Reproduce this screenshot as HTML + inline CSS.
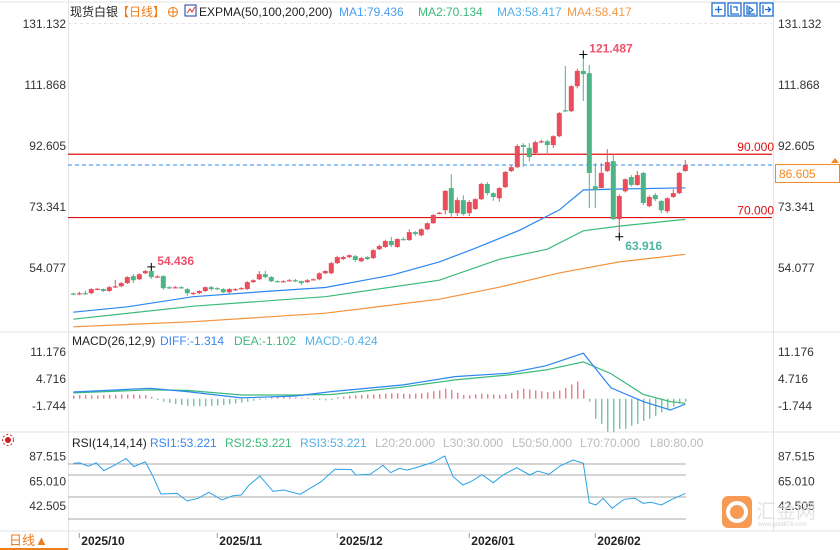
<!DOCTYPE html>
<html><head><meta charset="utf-8"><style>
html,body{margin:0;padding:0;background:#fff;}
svg{display:block;font-family:"Liberation Sans","Noto Sans CJK SC",sans-serif;}
</style></head><body>
<svg id="chart" width="840" height="550" viewBox="0 0 840 550" xmlns="http://www.w3.org/2000/svg">
<rect x="0" y="0" width="840" height="550" fill="#fff"/>
<g stroke="#e3e3e3" fill="none">
<line x1="0" y1="2" x2="840" y2="2"/>
<line x1="0" y1="332" x2="840" y2="332"/>
<line x1="0" y1="432" x2="840" y2="432"/>
<line x1="0" y1="531" x2="840" y2="531"/>
<line x1="68.5" y1="0" x2="68.5" y2="550"/>
<line x1="773.5" y1="0" x2="773.5" y2="531"/>
<line x1="68" y1="23.5" x2="772" y2="23.5" stroke-dasharray="3,3"/>
</g>
<g font-size="12">
<text x="70" y="16" fill="#222">现货白银</text>
<text x="117" y="16" fill="#f07c1a">【日线】</text>
<g><circle cx="173" cy="12" r="4.5" fill="none" stroke="#f07c1a"/><line x1="168" y1="12" x2="178" y2="12" stroke="#f07c1a"/><line x1="173" y1="7" x2="173" y2="17" stroke="#f07c1a"/></g>
<g><rect x="185" y="5" width="11" height="11" fill="#fff" stroke="#1a3f9a"/><polyline points="187,13 190,9 192,12 195,7" fill="none" stroke="#e03030"/></g>
<text x="199" y="16" fill="#222">EXPMA(50,100,200,200)</text>
<text x="339" y="16" fill="#4a9ef0">MA1:79.436</text>
<text x="418" y="16" fill="#3cba7a">MA2:70.134</text>
<text x="497" y="16" fill="#55b0e8">MA3:58.417</text>
<text x="567" y="16" fill="#f59a4a">MA4:58.417</text>
</g>
<g stroke="#1f6fd0" fill="none" stroke-width="1.3">
<g><rect x="712" y="3" width="13" height="13"/><path d="M718.5 6v7M715 9.5h7"/></g>
<g><rect x="728" y="3" width="13" height="13"/><path d="M731 5v9h8M733 7h4v4"/></g>
<g><rect x="744" y="3" width="13" height="13"/><path d="M747 5v9h8M749 7l4 3-4 3z"/></g>
<g><rect x="760" y="3" width="13" height="13"/><path d="M763 5v9M765 9.5h5M768 7l2.5 2.5-2.5 2.5"/></g>
</g>
<g id="axes" font-size="12" fill="#333"></g>
<g id="main"></g>
<g id="macd"></g>
<g id="rsi"></g>
<g font-size="12">
<text x="72" y="345" fill="#222">MACD(26,12,9)</text>
<text x="160" y="345" fill="#3a86f0">DIFF:-1.314</text>
<text x="234" y="345" fill="#3cba7a">DEA:-1.102</text>
<text x="305" y="345" fill="#55b0e8">MACD:-0.424</text>
</g>
<g font-size="12">
<text x="72" y="447" fill="#222">RSI(14,14,14)</text>
<text x="150" y="447" fill="#3a86f0">RSI1:53.221</text>
<text x="225" y="447" fill="#3cba7a">RSI2:53.221</text>
<text x="300" y="447" fill="#55b0e8">RSI3:53.221</text>
<text x="375" y="447" fill="#bbb">L20:20.000</text>
<text x="443" y="447" fill="#bbb">L30:30.000</text>
<text x="512" y="447" fill="#bbb">L50:50.000</text>
<text x="580" y="447" fill="#bbb">L70:70.000</text>
<text x="650" y="447" fill="#bbb">L80:80.00</text>
</g>
<g><circle cx="8" cy="440" r="3" fill="#d02020"/><circle cx="8" cy="440" r="5.5" fill="none" stroke="#d02020" stroke-dasharray="2,2"/></g>
<g>
<text x="9" y="545" font-size="13" fill="#f07c1a">日线▲</text>
<line x1="0" y1="549" x2="68" y2="549" stroke="#f07c1a" stroke-width="2"/>
</g>
<g opacity="0.8">
<rect x="722" y="496" width="30" height="32" rx="6" fill="#f5822a"/>
<circle cx="737" cy="512" r="9" fill="none" stroke="#fff" stroke-width="4"/>
<text x="756" y="518" font-size="20" fill="#ddd">汇金网</text>
<text x="758" y="526" font-size="6" fill="#ccc">www.gold678.com</text>
</g>
</svg>
<script>
// ---- data ----
const opens=[46.0,45.8,46.1,46.1,47.3,47.4,46.8,48.0,48.3,49.3,51.5,50.5,52.4,53.1,51.2,51.5,48.0,47.9,48.0,47.4,46.0,46.1,46.8,48.0,47.7,47.4,46.4,47.1,47.4,47.4,49.6,50.5,52.1,51.2,49.9,49.8,50.1,50.2,49.9,49.6,50.4,50.5,52.4,52.4,55.6,56.9,57.5,57.8,56.2,57.5,57.2,60.0,60.7,62.6,60.7,63.2,62.9,65.4,64.4,66.3,68.2,71.3,72.3,79.3,71.4,75.5,71.4,72.7,75.8,80.6,77.7,76.1,79.6,84.7,85.9,92.9,92.0,90.4,93.8,94.1,92.9,95.7,103.9,103.6,111.5,116.3,115.6,79.9,79.3,84.7,87.8,69.5,78.3,82.8,80.3,84.1,73.6,77.1,75.2,72.0,76.5,77.7,84.7];
const closes=[45.8,46.1,46.0,47.4,47.5,46.8,48.0,48.3,49.3,51.2,50.2,52.1,53.1,51.2,51.4,47.7,47.8,48.0,47.9,46.1,46.2,46.8,48.0,47.4,47.4,46.4,47.4,47.4,47.7,49.6,50.2,52.1,51.2,49.9,49.8,49.9,50.2,49.9,49.3,50.2,50.5,52.4,53.1,55.6,57.5,57.5,58.1,56.6,57.2,56.9,59.7,61.0,62.6,61.3,63.2,63.1,65.4,64.8,66.3,68.2,70.8,71.5,78.4,71.4,75.5,71.1,74.9,75.8,80.6,77.7,76.5,79.3,84.4,85.9,92.6,92.3,89.1,93.8,94.1,92.9,95.7,103.0,103.6,111.5,116.3,115.3,84.1,78.7,84.1,87.5,69.5,76.8,82.1,80.3,83.4,74.6,76.5,75.8,72.3,76.1,77.7,84.1,86.6];
const highs=[46.3,46.6,46.9,47.7,47.8,47.6,48.4,50.3,49.6,51.5,52.2,52.4,53.5,54.436,51.8,51.8,48.3,48.4,48.4,47.8,46.4,47.1,48.2,48.4,48.0,47.7,47.7,47.7,48.0,49.9,50.5,53.1,53.2,51.5,50.2,50.2,50.6,50.6,50.1,50.6,50.8,52.7,53.4,56.0,57.9,57.9,58.4,58.2,57.6,57.8,60.0,61.4,63.0,63.9,63.5,63.8,66.3,65.7,66.6,68.5,71.1,71.8,78.7,83.7,76.3,77.0,75.5,76.1,81.0,81.2,78.0,79.6,84.7,86.5,93.1,93.5,93.5,94.3,94.6,94.6,96.0,103.3,117.9,111.8,117.0,121.487,118.2,87.2,87.2,91.6,90.0,77.3,82.4,83.4,84.7,84.4,77.0,77.7,75.6,76.4,79.0,84.4,88.2];
const lows=[45.5,45.5,45.6,45.8,47.0,46.5,46.5,47.7,48.0,49.0,49.3,50.2,52.1,50.6,50.9,47.2,47.4,47.6,47.5,45.3,45.5,45.8,46.5,47.0,47.1,46.1,46.1,46.8,47.2,47.1,49.3,50.2,50.8,49.6,49.5,49.5,49.8,49.6,48.6,49.3,50.1,50.2,52.1,52.1,55.3,56.6,57.2,56.0,55.9,56.6,56.9,59.7,60.4,60.7,60.4,62.8,62.6,64.2,64.1,66.0,68.0,71.0,71.0,69.8,70.5,70.6,70.5,72.4,75.5,77.0,75.3,75.0,79.3,84.4,85.6,86.0,87.7,90.1,93.5,89.9,92.0,95.4,103.3,103.3,110.8,106.8,73.0,73.0,83.6,84.4,69.2,63.916,77.9,79.8,80.0,74.0,73.3,75.2,71.4,71.4,76.2,77.4,84.4];
const ma1Idx=[0,9,20,31,42,53,61,66.6,74.4,81,85,91,102];
const ma1Val=[40.1,41.8,45.0,46.5,47.9,51.8,56.0,60.0,66.0,72.4,78.7,79.0,79.4];
const ma2Idx=[0,20,42,61,71,79,85,91,102];
const ma2Val=[37.9,42.0,45.0,50.2,56.8,60.0,65.8,67.3,69.4];
const ma4Idx=[0,20,42,61,71,81,91,102];
const ma4Val=[35.5,37.1,39.8,44.2,48.0,52.5,56.0,58.4];
const hLevels=[90,70];
const lastPrice=86.605;
const priceTicks=[131.132,111.868,92.605,73.341,54.077];
const macdHist=[0.8,0.9,0.9,0.8,0.8,0.9,0.9,0.9,1.0,1.0,1.0,0.9,0.9,0.4,-0.3,-0.7,-1.0,-1.3,-1.5,-1.7,-1.8,-1.8,-1.8,-1.7,-1.6,-1.5,-1.3,-1.1,-0.9,-0.7,-0.5,-0.3,-0.2,0.3,0.4,0.5,0.4,0.3,0.2,0.2,-0.2,-0.3,-0.4,-0.3,0.3,0.5,0.7,0.8,0.9,1.0,1.0,1.1,1.2,1.3,1.3,1.2,1.1,1.2,1.3,1.5,1.8,2.0,2.4,2.1,1.4,0.9,0.8,1.0,1.2,1.1,1.0,0.9,1.0,1.4,2.0,2.4,2.2,2.0,1.8,1.6,1.7,2.0,2.6,3.4,4.1,2.2,-0.7,-4.8,-6.0,-7.9,-7.9,-7.2,-7.2,-6.5,-6.0,-5.3,-4.8,-4.1,-3.3,-2.4,-1.9,-1.2,-0.7];
const macdIdx=[0,12.8,19,28,37,43,55,63.6,72.6,78.8,85,89.6,95,99.5,102];
const diffVal=[1.6,2.5,1.7,0.2,0.65,1.7,3.3,5.3,6.1,7.9,10.9,2.6,-0.7,-2.7,-1.3];
const deaVal=[1.4,2.1,2.0,0.9,0.9,1.0,2.8,4.5,5.7,6.9,8.8,6.0,1.0,-0.7,-1.1];
const macdTicks=[11.176,4.716,-1.744];
const rsiIdx=[0,1.1,2.5,3.8,5.1,6.9,8.8,10.1,12,13.3,14.6,17.3,19,20.8,22.6,24.8,26.6,28,29.3,31.1,33.3,35.1,37.8,41.3,43.6,46.3,47.1,49.5,51.6,52.9,54.3,55.6,57.5,60.1,61.9,63.3,64.9,66.3,68.1,70,71.6,73.9,76.1,77.4,79.3,81.1,83.3,85,86,87.1,88.3,89.8,91.8,93.6,95,96.3,98,99.8,102];
const rsiVal=[80.6,81,78,81,74,79,85,77.6,82,68.5,52.7,53.3,46.4,48.8,54.3,47.3,51.2,51.8,60.9,69,55.1,56.4,52.5,63.9,75.2,75,70,70.6,78.8,72.1,76,74.5,77.3,81.8,87.3,68.5,61,64,70.3,63,70,76.6,70,73.6,70.6,78.2,83.6,80.6,44.8,42.7,48.8,39.7,47.9,48.8,44.3,45.2,42.7,47.9,53.3];
const rsiLevels=[80,70,50,30];
const rsiTicks=[87.515,65.010,42.505];
const dateLabels=["2025/10","2025/11","2025/12","2026/01","2026/02"];
const dateIdx=[1,24,44,66,87];

// ---- scales ----
const NS="http://www.w3.org/2000/svg";
const xS=i=>73.3+i*6;
const yP=v=>24+(131.132-v)*3.166;
const yM=v=>352+(11.176-v)*4.18;
const yR=v=>464+(80-v)*1.1;
function mk(tag,attrs,parent){const e=document.createElementNS(NS,tag);for(const k in attrs)e.setAttribute(k,attrs[k]);parent.appendChild(e);return e;}
const RED="#eb4d5c",GRN="#4db585";
const axes=document.getElementById('axes');
const main=document.getElementById('main');
const macd=document.getElementById('macd');
const rsi=document.getElementById('rsi');

priceTicks.forEach(v=>{
  const t=mk('text',{x:66,y:yP(v)+4,'text-anchor':'end'},axes);t.textContent=v.toFixed(3);
  
  
  const t2=mk('text',{x:778,y:yP(v)+4},axes);t2.textContent=v.toFixed(3);
  
  
});
macdTicks.forEach(v=>{
  const t=mk('text',{x:66,y:yM(v)+4,'text-anchor':'end'},axes);t.textContent=v.toFixed(3);
  
  
  const t2=mk('text',{x:778,y:yM(v)+4},axes);t2.textContent=v.toFixed(3);
  
  
});
rsiTicks.forEach(v=>{
  const t=mk('text',{x:66,y:yR(v)+5,'text-anchor':'end'},axes);t.textContent=v.toFixed(3);
  
  
  const t2=mk('text',{x:778,y:yR(v)+5},axes);t2.textContent=v.toFixed(3);
  
  
});
dateLabels.forEach((d,k)=>{
  const x=xS(dateIdx[k]);
  const l=mk('line',{x1:x,y1:533,x2:x,y2:538,stroke:'#999'},axes);
  
  
  const t=mk('text',{x:x+2,y:545,'font-weight':'bold','font-size':12,fill:'#222'},axes);t.textContent=d;
  
  
});

hLevels.forEach(v=>{
  const l=mk('line',{x1:68,y1:yP(v),x2:772,y2:yP(v),stroke:'#e01010','stroke-width':1.2},main);
  
  
  const t=mk('text',{x:774,y:yP(v)-3,'text-anchor':'end','font-size':12,fill:'#e01010'},main);t.textContent=v.toFixed(3);
  
  
});
const lp=mk('line',{x1:68,y1:yP(lastPrice),x2:830,y2:yP(lastPrice),stroke:'#2a8cf0','stroke-dasharray':'4,3'},main);


const lb=mk('rect',{x:775.5,y:yP(lastPrice)-0.5,width:64,height:18,fill:'#fff',stroke:'#f08a24'},main);


const lt=mk('text',{x:779,y:yP(lastPrice)+13,'font-size':12,fill:'#f08a24'},main);lt.textContent=lastPrice.toFixed(3);


const la=mk('path',{d:`M831 ${yP(lastPrice)-2} l4 -5 l4 5 z`,fill:'#f08a24'},main);



function line(idx,val,ys,color,parent,name,w){
  const pts=idx.map((i,k)=>xS(i).toFixed(1)+','+ys(val[k]).toFixed(1)).join(' ');
  const p=mk('polyline',{points:pts,fill:'none',stroke:color,'stroke-width':w||1.2},parent);
  
  
}
line(ma4Idx,ma4Val,yP,'#f5923a',main,'ma4-line');
line(ma2Idx,ma2Val,yP,'#3cba7a',main,'ma2-line');
line(ma1Idx,ma1Val,yP,'#2a86f0',main,'ma1-line');

opens.forEach((o,i)=>{
  const c=closes[i],x=xS(i),col=c>=o?RED:GRN;
  const g=mk('g',{},main);
  
  
  mk('line',{x1:x,y1:yP(highs[i]),x2:x,y2:yP(lows[i]),stroke:col,'stroke-width':1},g);
  const top=yP(Math.max(o,c)),bot=yP(Math.min(o,c));
  mk('rect',{x:x-2.5,y:top,width:5,height:Math.max(bot-top,1.2),fill:col},g);
});

function extreme(i,v,label,color,dy){
  const x=xS(i),y=yP(v);
  const g=mk('g',{},main);
  
  
  mk('path',{d:`M${x-4} ${y}h8M${x} ${y-4}v8`,stroke:'#000'},g);
  const t=mk('text',{x:x+6,y:y+dy,'font-size':12,'font-weight':'bold',fill:color},g);t.textContent=label;
}
let hi=0;highs.forEach((h,i)=>{if(h>highs[hi])hi=i;});
const lo=lows.indexOf(Math.min(...lows.slice(60)));
extreme(hi,highs[hi],highs[hi].toFixed(3),'#f0506a',-2);
extreme(lo,lows[lo],lows[lo].toFixed(3),'#4cb4a0',13);
let loc=0;for(let i=0;i<30;i++)if(highs[i]>highs[loc])loc=i;
extreme(loc,highs[loc],highs[loc].toFixed(3),'#f0506a',-2);

const z=yM(0);
macdHist.forEach((v,i)=>{
  const l=mk('line',{x1:xS(i)+0.5,y1:z,x2:xS(i)+0.5,y2:yM(v),stroke:v>=0?'#e8415a':'#3cae78','stroke-width':1},macd);
  
  
});
line(macdIdx,deaVal,yM,'#3cba7a',macd,'dea-line');
line(macdIdx,diffVal,yM,'#2a86f0',macd,'diff-line');

rsiLevels.forEach(v=>{
  const l=mk('line',{x1:68,y1:yR(v),x2:686,y2:yR(v),stroke:'#aaa'},rsi);
  
  
});
line(rsiIdx,rsiVal,yR,'#2aa2e8',rsi,'rsi-line',1);
</script>
</body></html>
